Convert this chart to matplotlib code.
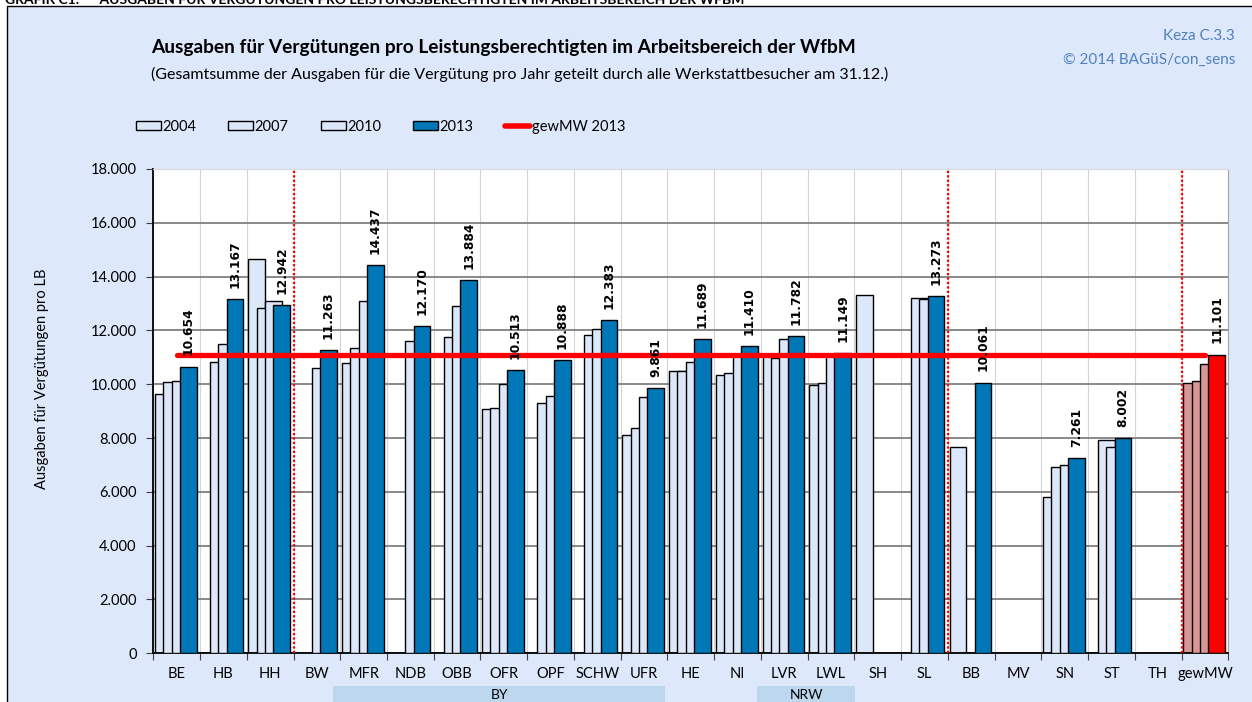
import numpy as np
import matplotlib.pyplot as plt
from matplotlib.patches import Rectangle, Patch
from matplotlib.lines import Line2D
from matplotlib.transforms import blended_transform_factory

nan = np.nan

# Daten
laender = ['BE', 'HB', 'HH', 'BW', 'MFR', 'NDB', 'OBB', 'OFR', 'OPF', 'SCHW', 'UFR',
           'HE', 'NI', 'LVR', 'LWL', 'SH', 'SL', 'BB', 'MV', 'SN', 'ST', 'TH', 'gewMW']
w2004 = [9620, nan, 14670, nan, 10800, nan, nan, 9065, nan, nan, 8110,
         10490, 10340, 11050, 9970, 13300, nan, 7680, nan, 5820, nan, nan, 10030]
w2007 = [10080, 10810, 12840, nan, 11350, nan, 11760, 9125, 9310, 11825, 8380,
         10490, 10400, 10960, 10030, nan, 13190, nan, nan, 6910, 7920, nan, 10120]
w2010 = [10130, 11490, 13100, 10610, 13100, 11600, 12900, 9990, 9570, 12050, 9530,
         10830, 11080, 11665, 11080, nan, 13150, nan, nan, 6995, 7650, nan, 10740]
w2013 = [10654, 13167, 12942, 11263, 14437, 12170, 13884, 10513, 10888, 12383, 9861,
         11689, 11410, 11782, 11149, nan, 13273, 10061, nan, 7261, 8002, nan, 11101]
jahre = ['2004', '2007', '2010', '2013']
gewmw_2013 = 11101
trennlinien = [3, 17, 22]
gruppen = [('BY', 3.85, 10.95), ('NRW', 12.92, 15.01)]

# Farben
bg = '#DEE8FB'
hell = '#DDE7FA'
blau = '#0078B8'
rosa = '#D99694'
rot = '#FF0000'

plt.rcParams['font.family'] = ['Lato', 'DejaVu Sans']
schmal = ['Liberation Sans Narrow', 'Lato', 'DejaVu Sans']

W, H = 1252, 702
def fx(px):
    return px / W
def fy(py):
    return 1 - py / H

fig = plt.figure(figsize=(12.52, 7.02), dpi=100, facecolor='white')
fig.patches.append(Rectangle((fx(7), -0.1), 1.2, fy(6) + 0.1, transform=fig.transFigure,
                             facecolor=bg, edgecolor='black', lw=1, zorder=-5))

# abgeschnittene Überschrift oben
fig.text(fx(5), fy(4), 'GRAFIK C1:      AUSGABEN FÜR VERGÜTUNGEN PRO LEISTUNGSBERECHTIGTEN IM ARBEITSBEREICH DER WFBM',
         fontsize=10, weight='bold', va='baseline')

fig.text(fx(151), fy(48), 'Ausgaben für Vergütungen pro Leistungsberechtigten im Arbeitsbereich der WfbM',
         fontsize=13.8, weight='bold', va='center')
fig.text(fx(151), fy(74), '(Gesamtsumme der Ausgaben für die Vergütung pro Jahr geteilt durch alle Werkstattbesucher am 31.12.)',
         fontsize=11.5, va='center')
fig.text(fx(1235), fy(36), 'Keza C.3.3', ha='right', va='center', fontsize=11, color='#4F81BD')
fig.text(fx(1235), fy(60), '© 2014 BAGüS/con_sens', ha='right', va='center', fontsize=11, color='#4F81BD')

ax = fig.add_axes([fx(153.3), fy(653.3), fx(1228.3) - fx(153.3), fy(168.9) - fy(653.3)])
ax.set_facecolor('white')

n = len(laender)
slot = 0.1783
off = 0.0357
bw = 2 * slot
serien = [w2004, w2007, w2010, w2013]
for k, werte in enumerate(serien):
    werte = np.array(werte, dtype=float)
    x = np.arange(n) + off + k * slot
    if k < 3:
        farben = np.array([hell] * (n - 1) + [rosa])
    else:
        farben = np.array([blau] * (n - 1) + [rot])
    m = np.isfinite(werte)
    ax.bar(x[m], werte[m], width=bw, align='edge', color=farben[m],
           edgecolor='black', lw=1, zorder=2 + k)

# Werte 2013 beschriften
for i, v in enumerate(w2013):
    if np.isfinite(v):
        xc = i + off + 4 * slot
        txt = f'{v:,.0f}'.replace(',', '.')
        ax.annotate(txt, (xc, v), xytext=(0, 8), textcoords='offset points',
                    rotation=90, ha='center', va='bottom', fontsize=8.8,
                    fontweight='bold', family='DejaVu Sans', zorder=12)

ax.plot([0.5, n - 0.5], [gewmw_2013, gewmw_2013], color=rot, lw=3.8,
        solid_capstyle='round', zorder=9)
for xv in trennlinien:
    ax.axvline(xv, color=rot, ls=(0, (1, 1)), lw=1.6, zorder=10)

ax.set_xlim(0, n)
ax.set_ylim(0, 18000)
ax.set_axisbelow(True)
ax.yaxis.grid(True, color='#808080', lw=1.3)
ax.xaxis.grid(True, which='major', color='#D4D4D4', lw=0.8)

ax.set_xticks(np.arange(n + 1))
ax.set_xticklabels([])
ax.set_xticks(np.arange(n) + 0.5, minor=True)
ax.set_xticklabels(laender, minor=True, family=schmal)
ax.tick_params(axis='x', which='major', length=5, direction='out', color='#404040')
ax.tick_params(axis='x', which='minor', length=0, pad=10, labelsize=10.5)

yt = np.arange(0, 18001, 2000)
ax.set_yticks(yt)
ax.set_yticklabels([f'{v:,.0f}'.replace(',', '.') for v in yt])
ax.tick_params(axis='y', length=5, direction='out', color='#404040', labelsize=10.5, pad=7)

for s in ['left', 'bottom']:
    ax.spines[s].set_color('black')
    ax.spines[s].set_linewidth(1.3)
ax.spines['right'].set_color('#A6A6A6')
ax.spines['top'].set_color('#D9D9D9')

fig.text(fx(42), fy(379), 'Ausgaben für Vergütungen pro LB', rotation=90,
         ha='center', va='center', fontsize=10.5)

# Gruppenbänder unter der Achse
trans = blended_transform_factory(ax.transData, fig.transFigure)
for name, x0, x1 in gruppen:
    ax.add_patch(Rectangle((x0, fy(710)), x1 - x0, fy(686) - fy(710), transform=trans,
                           facecolor='#BDD7EE', edgecolor='none', clip_on=False))
    ax.text((x0 + x1) / 2, fy(695), name, transform=trans, ha='center', va='center',
            fontsize=10, family=schmal, clip_on=False)

handles = [Patch(facecolor=hell, edgecolor='black'), Patch(facecolor=hell, edgecolor='black'),
           Patch(facecolor=hell, edgecolor='black'), Patch(facecolor=blau, edgecolor='black'),
           Line2D([], [], color=rot, lw=4, solid_capstyle='round')]
fig.legend(handles, jahre + ['gewMW 2013'], loc='center left',
           bbox_to_anchor=(fx(123), fy(127)), ncol=5, frameon=False,
           prop={'family': schmal, 'size': 10.5},
           handlelength=1.7, handletextpad=0.1, columnspacing=2.2, handleheight=0.55)

fig.savefig('out.png', dpi=100)
